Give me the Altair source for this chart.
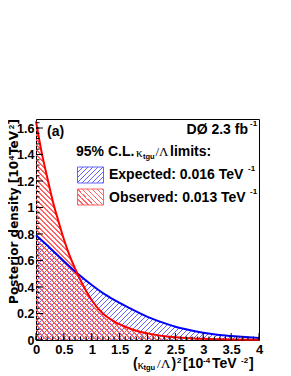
import altair as alt
import pandas as pd

# ---- data ----
obs_x = [0, 0.1, 0.2, 0.3, 0.4, 0.5, 0.6, 0.7, 0.8, 0.9, 1.0, 1.2, 1.4, 1.6, 1.8, 2.0, 2.5, 3.0, 3.5, 4.0]
obs_y = [1.65, 1.42, 1.23, 1.05, 0.90, 0.76, 0.64, 0.54, 0.45, 0.37, 0.30, 0.20, 0.14, 0.10, 0.07, 0.05, 0.02, 0.009, 0.004, 0.002]
exp_x = [0, 0.25, 0.5, 0.75, 1.0, 1.25, 1.5, 1.75, 2.0, 2.25, 2.5, 2.75, 3.0, 3.25, 3.5, 3.75, 4.0]
exp_y = [0.79, 0.695, 0.595, 0.50, 0.415, 0.34, 0.28, 0.225, 0.175, 0.135, 0.10, 0.075, 0.055, 0.04, 0.03, 0.022, 0.016]

x_major = [0, 0.5, 1, 1.5, 2, 2.5, 3, 3.5, 4]
x_minor = [round(i * 0.1, 2) for i in range(41)]
y_major = [0, 0.2, 0.4, 0.6, 0.8, 1.0, 1.2, 1.4, 1.6]
y_minor = [round(i * 0.04, 2) for i in range(42)]

W, H = 223, 221
YMAX = 1.668
FONT = "Liberation Sans"
SERIF = "Liberation Serif"
TFONT = "DejaVu Sans"
BLUE_H = "#6262ff"
RED_H = "#ff6262"


def hatch(color, w, h, kind, period=5.0, frac=0.3):
    n = (w + h) / period
    clear = "rgba(255,255,255,0)"
    stops = []
    i = 0
    while i / n < 1:
        a = i / n
        b = min((i + frac) / n, 1)
        c = min((i + 1) / n, 1)
        stops += [{"offset": a, "color": color}, {"offset": b, "color": color},
                  {"offset": b, "color": clear}, {"offset": c, "color": clear}]
        i += 1
    k = (w + h) / (w * w + h * h)
    if kind == "/":
        return alt.Gradient(gradient="linear", stops=stops, x1=0, y1=0, x2=k * w, y2=k * h)
    return alt.Gradient(gradient="linear", stops=stops, x1=0, y1=1, x2=k * w, y2=1 - k * h)


xs = alt.Scale(domain=[0, 4], nice=False, zero=False)
ys = alt.Scale(domain=[0, YMAX], nice=False, zero=False)
xaxis = alt.Axis(values=x_major, format="~g", title=None, tickSize=0, domain=False, grid=False,
                 labelFont=FONT, labelFontWeight="bold", labelFontSize=13, labelColor="black",
                 labelPadding=3, labelFlush=False, labelOverlap=False)
yaxis = alt.Axis(values=y_major, format="~g", title=None, tickSize=0, domain=False, grid=False,
                 labelFont=FONT, labelFontWeight="bold", labelFontSize=12.5, labelColor="black",
                 labelPadding=2, labelFlush=False, labelOverlap=False)

exp_df = pd.DataFrame({"x": exp_x, "y": exp_y})
obs_df = pd.DataFrame({"x": obs_x, "y": obs_y})

X = alt.X("x:Q", scale=xs, axis=xaxis)
Y = alt.Y("y:Q", scale=ys, axis=yaxis)

blue_area = alt.Chart(exp_df).mark_area(
    interpolate="monotone", fill=hatch(BLUE_H, W, 0.79 / YMAX * H, "/")).encode(x=X, y=Y)
red_area = alt.Chart(obs_df).mark_area(
    interpolate="monotone", fill=hatch(RED_H, W, 1.65 / YMAX * H, "\\")).encode(x=X, y=Y)
blue_line = alt.Chart(exp_df).mark_line(interpolate="monotone", color="#0000ff", strokeWidth=2).encode(x=X, y=Y)
red_line = alt.Chart(obs_df).mark_line(interpolate="monotone", color="#ff0000", strokeWidth=2).encode(x=X, y=Y)

xmaj = alt.Chart(pd.DataFrame({"x": x_major})).mark_rule(color="black").encode(
    x=X, y=alt.value(H), y2=alt.value(H - 7))
xmin = alt.Chart(pd.DataFrame({"x": x_minor})).mark_rule(color="black").encode(
    x=X, y=alt.value(H), y2=alt.value(H - 3.5))
ymaj = alt.Chart(pd.DataFrame({"y": y_major})).mark_rule(color="black").encode(
    y=Y, x=alt.value(0), x2=alt.value(7))
ymin = alt.Chart(pd.DataFrame({"y": y_minor})).mark_rule(color="black").encode(
    y=Y, x=alt.value(0), x2=alt.value(3.5))

dummy = pd.DataFrame({"d": [0]})


def txt(s, x, y, size=14, font=FONT, weight="bold", align="left", angle=0):
    return alt.Chart(dummy).mark_text(text=s, font=font, fontSize=size, fontWeight=weight,
                                      align=align, baseline="middle", angle=angle,
                                      color="black").encode(x=alt.value(x), y=alt.value(y))


def box(color, kind, y0):
    return alt.Chart(dummy).mark_rect(fill=hatch(color, 26, 16, kind), stroke=color,
                                      strokeWidth=1).encode(
        x=alt.value(41.5), x2=alt.value(67.5), y=alt.value(y0), y2=alt.value(y0 + 16))


texts = [
    txt("(a)", 11, 13),
    txt("DØ 2.3 fb", 212, 11, align="right"),
    txt("-1", 214, 5, size=8),
    txt("95% C.L.", 40, 33),
    txt("κ", 100, 34, size=13, font=SERIF, weight="normal"),
    txt("tgu", 107, 37.5, size=7.5),
    txt("/Λ", 119.5, 33, size=13, font=SERIF, weight="normal"),
    txt("limits:", 134, 33),
    txt("Expected: 0.016 TeV", 73, 56),
    txt("-1", 212, 50, size=8),
    txt("Observed: 0.013 TeV", 73, 79),
    txt("-1", 214, 73, size=8),
    # x title
    txt("(", 97, 245),
    txt("κ", 101.5, 246, size=13, font=SERIF, weight="normal"),
    txt("tgu", 107.5, 248.5, size=7.5),
    txt("/Λ", 121, 245, size=13.5, font=SERIF, weight="normal"),
    txt(")", 135.5, 245),
    txt("2", 141, 241.5, size=8),
    txt("[10", 147, 245),
    txt("-4", 167, 241.5, size=8),
    txt("TeV", 176, 245),
    txt("-2", 205, 241.5, size=8),
    txt("]", 213, 245),
    # y title
    txt("Posterior density [10", -22, 42, size=12, font=TFONT, align="right", angle=270),
    txt("4", -24, 39, size=8, align="center", angle=270),
    txt("TeV", -22, 12, size=12, font=TFONT, align="right", angle=270),
    txt("2", -24, 8, size=8, align="center", angle=270),
    txt("]", -22, 0, size=12, font=TFONT, align="right", angle=270),
]

chart = alt.layer(
    blue_area, red_area, blue_line, red_line, xmaj, xmin, ymaj, ymin,
    box(BLUE_H, "/", 48), box(RED_H, "\\", 70), *texts
).properties(
    width=W, height=H, autosize="none",
    padding={"left": 28, "top": 111, "right": 16, "bottom": 34},
).configure_view(stroke="black", strokeWidth=1)

chart.save("out.html", embed_options={"renderer": "svg", "actions": False})
